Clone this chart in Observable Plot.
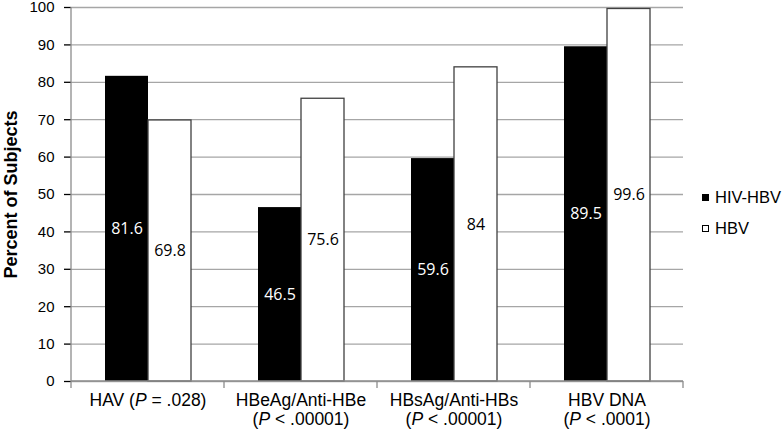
<!DOCTYPE html>
<html><head><meta charset="utf-8">
<script src="https://cdn.jsdelivr.net/npm/d3@7"></script>
<script src="https://cdn.jsdelivr.net/npm/@observablehq/plot@0.6"></script>
<style>
body{margin:0;background:#fff;}
#wrap{position:relative;width:782px;height:429px;overflow:hidden;}
.leg{position:absolute;left:702px;font:16.5px "Liberation Sans",Arial,sans-serif;color:#000;display:flex;align-items:center;height:20px;line-height:20px;}
.sw{width:5px;height:5px;margin-right:6px;border:1px solid #000;box-sizing:content-box;}
g[aria-label="y-axis tick"]{stroke:#8c8c8c;stroke-width:1.3px;}
</style></head><body><div id="wrap"></div>
<script>
const categories = ["HAV", "HBeAg/Anti-HBe", "HBsAg/Anti-HBs", "HBV DNA"];
const categoryLabels = ["HAV (P = .028)", "HBeAg/Anti-HBe\n(P < .00001)", "HBsAg/Anti-HBs\n(P < .00001)", "HBV DNA\n(P < .0001)"];
const series = ["HIV-HBV", "HBV"];
const hivHbv = [81.6, 46.5, 59.6, 89.5];
const hbv = [69.8, 75.6, 84, 99.6];
const yTicks = [0, 10, 20, 30, 40, 50, 60, 70, 80, 90, 100];
const yLabel = "Percent of Subjects";

const rows = categories.flatMap((c, i) => [
  {cat: c, series: series[0], value: hivHbv[i]},
  {cat: c, series: series[1], value: hbv[i]}
]);
const isA = d => d.series === series[0];
const isB = d => d.series === series[1];

const chart = Plot.plot({
  width: 782, height: 429,
  marginLeft: 69, marginRight: 98, marginTop: 7, marginBottom: 48,
  style: {fontFamily: "'Liberation Sans', Arial, sans-serif", fontSize: "16px", color: "#000", background: "#fff", overflow: "visible"},
  fx: {domain: categories, padding: 0},
  x: {domain: series, paddingInner: 0, paddingOuter: 0.76, axis: null},
  y: {domain: [0, 100]},
  marks: [
    Plot.gridY(yTicks, {stroke: "#a6a6a6", strokeOpacity: 1, strokeWidth: 1.3}),
    Plot.axisY(yTicks, {tickSize: 7, tickPadding: 10, fontSize: 15, label: yLabel, labelAnchor: "center", labelOffset: 67, labelArrow: "none"}),
    Plot.axisFx({anchor: "bottom", tickSize: 0, tickPadding: 11, lineHeight: 1.1, fontSize: 17.5, tickFormat: d => categoryLabels[categories.indexOf(d)], label: null}),
    Plot.barY(rows.filter(isA), {fx: "cat", x: "series", y: "value", fill: "#000"}),
    Plot.barY(rows.filter(isB), {fx: "cat", x: "series", y: "value", fill: "#fff", stroke: "#404040", strokeWidth: 1.3}),
    Plot.text(rows.filter(isA), {fx: "cat", x: "series", y: d => d.value / 2, text: d => String(d.value), fill: "#fff", fontFamily: "'Open Sans', sans-serif", fontSize: 16}),
    Plot.text(rows.filter(isB), {fx: "cat", x: "series", y: d => d.value / 2, text: d => String(d.value), fill: "#000", fontFamily: "'Open Sans', sans-serif", fontSize: 16})
  ]
});

// axis line and category boundary ticks from the chart's own scales
const fx = chart.scale("fx"), y = chart.scale("y");
const svg = d3.select(chart);
const left = fx.apply(categories[0]);
const bounds = categories.map(c => fx.apply(c)).concat([fx.apply(categories[categories.length - 1]) + fx.bandwidth]);
const g = svg.append("g").attr("stroke", "#8c8c8c").attr("stroke-width", 1.3);
g.append("line").attr("x1", left).attr("x2", left).attr("y1", y.apply(0)).attr("y2", y.apply(100));
g.append("line").attr("x1", left).attr("x2", bounds[bounds.length - 1]).attr("y1", y.apply(0)).attr("y2", y.apply(0));
bounds.forEach(b => g.append("line").attr("x1", b).attr("x2", b).attr("y1", y.apply(0)).attr("y2", y.apply(0) + 7));

// y-axis title styling
chart.querySelectorAll("text").forEach(t => {
  if (t.textContent === yLabel) {
    t.style.fontWeight = "bold";
    t.style.fontSize = "18px";
  }
});

// italic P in category labels
chart.querySelectorAll("text").forEach(t => {
  const walker = document.createTreeWalker(t, NodeFilter.SHOW_TEXT);
  const nodes = [];
  while (walker.nextNode()) nodes.push(walker.currentNode);
  nodes.forEach(n => {
    const s = n.textContent;
    const k = s.indexOf("(P ");
    if (k < 0) return;
    const before = document.createTextNode(s.slice(0, k + 1));
    const it = document.createElementNS("http://www.w3.org/2000/svg", "tspan");
    it.setAttribute("font-style", "italic");
    it.textContent = "P";
    const after = document.createTextNode(s.slice(k + 2));
    const p = n.parentNode;
    p.insertBefore(before, n);
    p.insertBefore(it, n);
    p.insertBefore(after, n);
    p.removeChild(n);
  });
});

const wrap = document.getElementById("wrap");
wrap.appendChild(chart);
[[series[0], "#000", 187], [series[1], "#fff", 218]].forEach(([name, col, top]) => {
  const d = document.createElement("div");
  d.className = "leg";
  d.style.top = top + "px";
  const sw = document.createElement("span");
  sw.className = "sw";
  sw.style.background = col;
  d.appendChild(sw);
  d.appendChild(document.createTextNode(name));
  wrap.appendChild(d);
});
</script></body></html>
